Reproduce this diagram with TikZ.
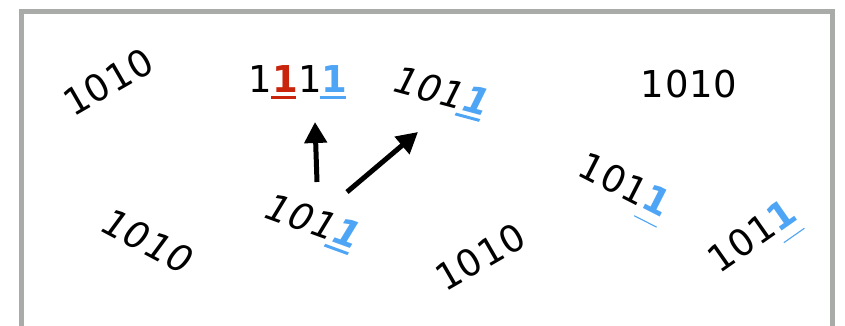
\documentclass[tikz,border=0pt]{standalone}
\usepackage{fontspec}
\newfontfamily\digitfont{DejaVu Sans}[LetterSpace=2]
\usetikzlibrary{arrows.meta}
\definecolor{framegray}{HTML}{A9ABA9}
\definecolor{bitred}{HTML}{C8250C}
\definecolor{bitblue}{HTML}{4FA5F5}
\newcommand\bitmk[3]{{\color{#1}\bfseries\makebox[0pt][l]{\hspace{-0.03em}\rule[#3]{0.68em}{#2}}1}}
\begin{document}
\begin{tikzpicture}[x=1pt,y=-1pt,
  bits/.style={font=\digitfont\fontsize{37}{37}\selectfont, inner sep=0pt, anchor=center},
  flip/.style={-{Triangle[length=21pt,width=22pt]}, line width=5pt}]
\useasboundingbox (0,0) rectangle (845,326);
\fill[white] (0,0) rectangle (845,326);
\draw[framegray, line width=5pt] (21.5,11.5) rectangle (832,330);
\node[bits, rotate=30] (a) at (108,82) {1010};
\node[bits] (b) at (298,82) {1\bitmk{bitred}{0.08em}{-0.18em}1\bitmk{bitblue}{0.08em}{-0.18em}};
\node[bits, rotate=-15, xslant=0.2] (c) at (441,94) {101\bitmk{bitblue}{0.08em}{-0.18em}};
\node[bits] (d) at (689,84) {1010};
\node[bits, rotate=-20, xslant=0.2] (e) at (312,224) {101\bitmk{bitblue}{0.08em}{-0.18em}};
\node[bits, rotate=-28, xslant=0.15] (f) at (148,241) {1010};
\node[bits, rotate=30] (g) at (480,257) {1010};
\node[bits, rotate=-27] (h) at (623,189) {101\bitmk{bitblue}{0.03em}{-0.3em}};
\node[bits, rotate=35] (i) at (755,240) {101\bitmk{bitblue}{0.03em}{-0.3em}};
\coordinate (e1) at (317,182);
\coordinate (b1) at (315,122);
\coordinate (e2) at (347,192);
\coordinate (c1) at (418,132);
\draw[flip] (e1) -- (b1);
\draw[flip] (e2) -- (c1);
\end{tikzpicture}
\end{document}
